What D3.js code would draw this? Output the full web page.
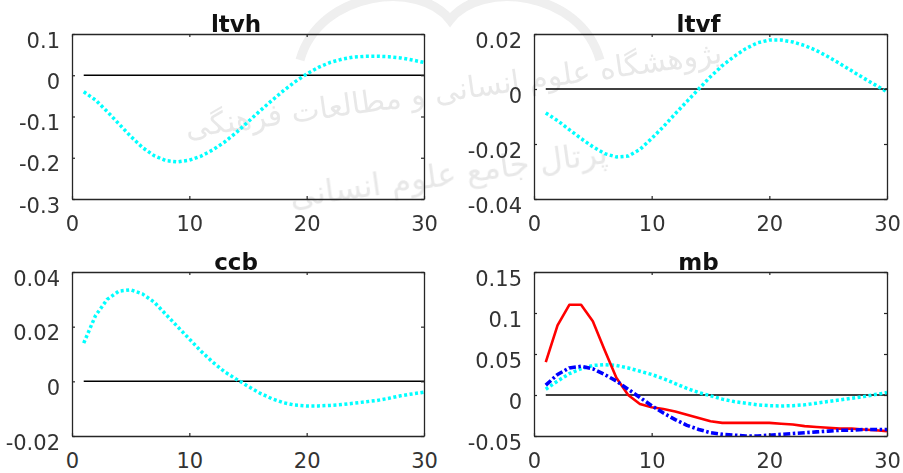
<!DOCTYPE html>
<html>
<head>
<meta charset="utf-8">
<script src="https://cdn.jsdelivr.net/npm/d3@7"></script>
<style>
  body { margin: 0; background: #fff; }
  svg { display: block; }
  .tick-label { font-family: "DejaVu Sans", sans-serif; font-size: 21px; fill: #333; }
  .title { font-family: "DejaVu Sans", sans-serif; font-size: 23px; font-weight: bold; fill: #111; }
</style>
</head>
<body>
<svg id="chart" width="903" height="473"></svg>
<script>
// horizons 1..30
const periods = d3.range(1, 31);

const ltvh_values = [-0.04, -0.06, -0.088, -0.118, -0.148, -0.175, -0.195, -0.207, -0.21, -0.206,
  -0.196, -0.181, -0.162, -0.139, -0.113, -0.087, -0.062, -0.038, -0.016, 0.003,
  0.019, 0.031, 0.039, 0.044, 0.046, 0.046, 0.045, 0.042, 0.037, 0.031];

const ltvf_values = [-0.0087, -0.0115, -0.0148, -0.018, -0.021, -0.0235, -0.0247, -0.0244, -0.022, -0.018,
  -0.0137, -0.009, -0.0045, 0.0, 0.0045, 0.0085, 0.0118, 0.0147, 0.0168, 0.0178,
  0.0178, 0.0171, 0.0158, 0.014, 0.0117, 0.0092, 0.0066, 0.004, 0.0015, -0.001];

const ccb_values = [0.014, 0.024, 0.03, 0.033, 0.0335, 0.032, 0.029, 0.0245, 0.02, 0.0155,
  0.011, 0.007, 0.0035, 0.0008, -0.0018, -0.0043, -0.0063, -0.0078, -0.0087, -0.009,
  -0.009, -0.0088, -0.0085, -0.008, -0.0075, -0.007, -0.0062, -0.0053, -0.0046, -0.004];

const mb_cyan = [0.007, 0.017, 0.026, 0.032, 0.036, 0.037, 0.036, 0.033, 0.029, 0.025,
  0.02, 0.014, 0.008, 0.003, -0.001, -0.005, -0.008, -0.010, -0.012, -0.013,
  -0.0134, -0.013, -0.012, -0.010, -0.008, -0.006, -0.004, -0.002, 0.0005, 0.003];

const mb_red = [0.04, 0.085, 0.11, 0.11, 0.09, 0.055, 0.021, 0.0, -0.011, -0.015,
  -0.017, -0.02, -0.024, -0.028, -0.032, -0.034, -0.034, -0.034, -0.034, -0.034,
  -0.035, -0.036, -0.038, -0.039, -0.040, -0.041, -0.041, -0.042, -0.043, -0.044];

const mb_blue = [0.012, 0.025, 0.033, 0.035, 0.032, 0.025, 0.017, 0.007, -0.003, -0.013,
  -0.022, -0.03, -0.037, -0.042, -0.046, -0.048, -0.049, -0.05, -0.05, -0.049,
  -0.048, -0.047, -0.046, -0.045, -0.044, -0.043, -0.043, -0.042, -0.042, -0.042];

const x_ticks = [0, 10, 20, 30];
const ltvh_ticks = [0.1, 0, -0.1, -0.2, -0.3];
const ltvf_ticks = [0.02, 0, -0.02, -0.04];
const ccb_ticks = [0.04, 0.02, 0, -0.02];
const mb_ticks = [0.15, 0.1, 0.05, 0, -0.05];

const watermark_lines = ["پژوهشگاه علوم انسانی و مطالعات فرهنگی", "پرتال جامع علوم انسانی"];

const svg = d3.select('#chart');

// faint background watermark
let wm = svg.append('g').attr('opacity', 0.35);
wm.append('path')
  .attr('d', 'M 300 60 C 320 -10, 420 -20, 450 20 C 480 -20, 580 -10, 600 60')
  .attr('fill', 'none').attr('stroke', '#d0d0d0').attr('stroke-width', 9);
wm.append('text')
  .attr('x', 455).attr('y', 100)
  .attr('text-anchor', 'middle')
  .attr('transform', 'rotate(-8,455,100)')
  .style('font-family', '"DejaVu Sans", sans-serif').style('font-size', '30px').style('fill', '#bdbdbd')
  .text(watermark_lines[0]);
wm.append('text')
  .attr('x', 450).attr('y', 185)
  .attr('text-anchor', 'middle')
  .attr('transform', 'rotate(-8,450,185)')
  .style('font-family', '"DejaVu Sans", sans-serif').style('font-size', '32px').style('fill', '#bdbdbd')
  .text(watermark_lines[1]);

const panels = [
  {title: 'ltvh', x0: 72, x1: 424, y0: 34, y1: 199, domain: [-0.3, 0.1], ticks: ltvh_ticks,
    series: [{values: ltvh_values, kind: 'cyan'}]},
  {title: 'ltvf', x0: 534, x1: 887, y0: 34, y1: 199, domain: [-0.04, 0.02], ticks: ltvf_ticks,
    series: [{values: ltvf_values, kind: 'cyan'}]},
  {title: 'ccb', x0: 72, x1: 424, y0: 272, y1: 436, domain: [-0.02, 0.04], ticks: ccb_ticks,
    series: [{values: ccb_values, kind: 'cyan'}]},
  {title: 'mb', x0: 534, x1: 887, y0: 272, y1: 436, domain: [-0.05, 0.15], ticks: mb_ticks,
    series: [{values: mb_cyan, kind: 'cyan'}, {values: mb_red, kind: 'red'}, {values: mb_blue, kind: 'blue'}]}
];

const line_styles = {
  cyan: {color: '#00ffff', width: 3.5, dash: '3,2.5'},
  red: {color: '#ff0000', width: 2.6, dash: null},
  blue: {color: '#0000ff', width: 3.6, dash: '7,2.5,2.5,2.5'}
};

panels.forEach(function (p) {
  let x = d3.scaleLinear().domain([0, 30]).range([p.x0, p.x1]);
  let y = d3.scaleLinear().domain(p.domain).range([p.y1, p.y0]);
  let g = svg.append('g');

  // zero line
  g.append('line')
    .attr('x1', x(1)).attr('x2', x(30))
    .attr('y1', y(0)).attr('y2', y(0))
    .attr('stroke', '#000').attr('stroke-width', 1.5);

  let clip_id = 'clip_' + p.title;
  svg.append('clipPath').attr('id', clip_id)
    .append('rect')
    .attr('x', p.x0).attr('y', p.y0 - 3)
    .attr('width', p.x1 - p.x0 + 2).attr('height', p.y1 - p.y0 + 3);

  p.series.forEach(function (s) {
    let st = line_styles[s.kind];
    let line = d3.line()
      .x((d, i) => x(periods[i]))
      .y(d => y(d));
    g.append('path')
      .datum(s.values)
      .attr('clip-path', 'url(#' + clip_id + ')')
      .attr('d', line)
      .attr('fill', 'none')
      .attr('stroke', st.color)
      .attr('stroke-width', st.width)
      .attr('stroke-dasharray', st.dash)
      .attr('stroke-linejoin', 'round');
  });

  // axes: bottom/left with labels, top/right with inward ticks only
  let ax_bottom = g.append('g').attr('transform', 'translate(0,' + p.y1 + ')')
    .call(d3.axisBottom(x).tickValues(x_ticks).tickSizeInner(-3).tickSizeOuter(0).tickPadding(16)
      .tickFormat(d => String(d)));
  let ax_left = g.append('g').attr('transform', 'translate(' + p.x0 + ',0)')
    .call(d3.axisLeft(y).tickValues(p.ticks).tickSizeInner(-3).tickSizeOuter(0).tickPadding(12)
      .tickFormat(d => String(+d.toFixed(3))));
  let ax_top = g.append('g').attr('transform', 'translate(0,' + p.y0 + ')')
    .call(d3.axisTop(x).tickValues(x_ticks).tickSizeInner(-3).tickSizeOuter(0).tickFormat(''));
  let ax_right = g.append('g').attr('transform', 'translate(' + p.x1 + ',0)')
    .call(d3.axisRight(y).tickValues(p.ticks).tickSizeInner(-3).tickSizeOuter(0).tickFormat(''));

  [ax_bottom, ax_left, ax_top, ax_right].forEach(function (a) {
    a.select('.domain').attr('stroke', '#262626').attr('stroke-width', 1.3);
    a.selectAll('.tick line').attr('stroke', '#262626').attr('stroke-width', 1.2);
    a.selectAll('.tick text').attr('class', 'tick-label').attr('font-size', null).attr('font-family', null).attr('fill', null);
  });
  ax_left.selectAll('.tick text').attr('dy', '0.62em');
  ax_bottom.selectAll('.tick text').attr('dy', '0.75em');

  // title
  g.append('text')
    .attr('class', 'title')
    .attr('x', (p.x0 + p.x1) / 2 - 12)
    .attr('y', p.y0 - 2)
    .attr('text-anchor', 'middle')
    .text(p.title);
});
</script>
</body>
</html>
